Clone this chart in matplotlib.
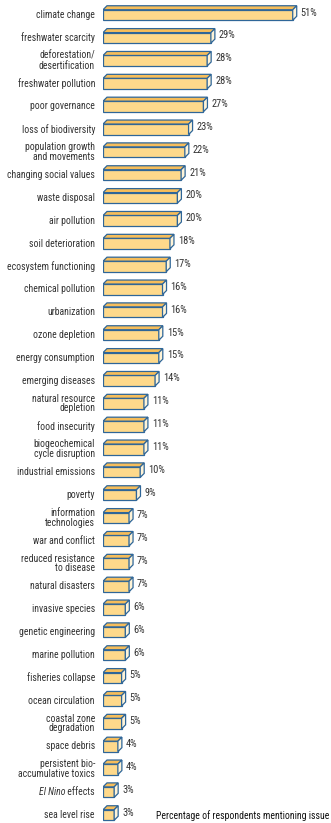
import matplotlib.pyplot as plt
from matplotlib.patches import Polygon

plt.rcParams['font.family'] = ['Roboto Condensed', 'DejaVu Sans']

issues = ['climate change', 'freshwater scarcity', 'deforestation/\ndesertification',
          'freshwater pollution', 'poor governance', 'loss of biodiversity',
          'population growth\nand movements', 'changing social values', 'waste disposal',
          'air pollution', 'soil deterioration', 'ecosystem functioning',
          'chemical pollution', 'urbanization', 'ozone depletion', 'energy consumption',
          'emerging diseases', 'natural resource\ndepletion', 'food insecurity',
          'biogeochemical\ncycle disruption', 'industrial emissions', 'poverty',
          'information\ntechnologies', 'war and conflict', 'reduced resistance\nto disease',
          'natural disasters', 'invasive species', 'genetic engineering',
          'marine pollution', 'fisheries collapse', 'ocean circulation',
          'coastal zone\ndegradation', 'space debris', 'persistent bio-\naccumulative toxics',
          'El Nino effects', 'sea level rise']
percent = [51, 29, 28, 28, 27, 23, 22, 21, 20, 20, 18, 17, 16, 16, 15, 15, 14, 11, 11,
           11, 10, 9, 7, 7, 7, 7, 6, 6, 6, 5, 5, 5, 4, 4, 3, 3]

front_c = '#fed98b'
top_c = '#f6bd5a'
side_c = '#fff4d8'
edge_c = '#2f6698'
text_c = '#333333'
fs = 7

W, H = 331, 823
fig = plt.figure(figsize=(W / 100, H / 100), dpi=100)
x0 = 103
ax = fig.add_axes([x0 / W, 0, 1 - x0 / W, 1])
ax.axis('off')

px_per_pct = 3.72
row_px = (815 - 15) / (len(issues) - 1)
ax.set_xlim(0, (W - x0) / px_per_pct)
ax.set_ylim(len(issues) - 1 + 8 / row_px, -15 / row_px)

dx = 4 / px_per_pct       # depth of the 3d bars
dy = 4 / row_px
h = 10.5 / row_px         # height of front face

for i, (name, v) in enumerate(zip(issues, percent)):
    top = i - h / 2
    bot = i + h / 2
    front = Polygon([(0, top), (v, top), (v, bot), (0, bot)], closed=True,
                    fc=front_c, ec=edge_c, lw=0.9)
    lid = Polygon([(0, top), (v, top), (v + dx, top - dy), (dx, top - dy)], closed=True,
                  fc=top_c, ec=edge_c, lw=0.9)
    side = Polygon([(v, top), (v, bot), (v + dx, bot - dy), (v + dx, top - dy)], closed=True,
                   fc=side_c, ec=edge_c, lw=0.9)
    for p in (front, lid, side):
        ax.add_patch(p)

    ax.text(v + dx + 4 / px_per_pct, i - dy * 0.6, f'{v}%', ha='left', va='center',
            fontsize=fs + 0.5, color=text_c)

    lx = -8 / px_per_pct
    if name == 'El Nino effects':
        t = ax.text(lx, i, ' effects', ha='right', va='center', fontsize=fs, color=text_c)
        ax.annotate('El Nino', xy=(0, 0.5), xycoords=t, ha='right', va='center',
                    fontsize=fs, color=text_c, style='italic', annotation_clip=False)
    else:
        ax.text(lx, i, name, ha='right', va='center', fontsize=fs, color=text_c,
                multialignment='right', linespacing=0.95, clip_on=False)

fig.text(329 / W, 1 - 816 / H, 'Percentage of respondents mentioning issue',
         ha='right', va='center', fontsize=fs, color='#111111')

fig.savefig('out.png', dpi=100)
